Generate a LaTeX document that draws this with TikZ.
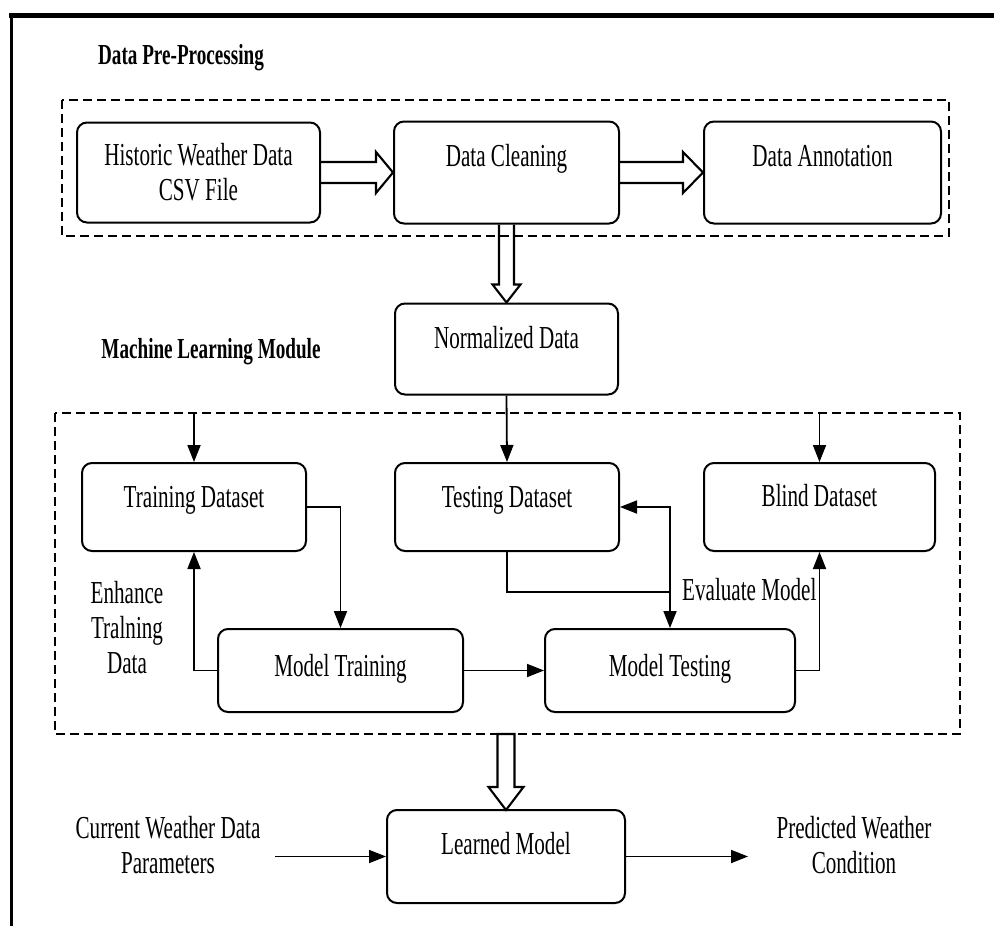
\documentclass[tikz,border=0pt]{standalone}
\usepackage{fontspec}
\setmainfont{Liberation Serif}[FakeStretch=0.66]
\usetikzlibrary{arrows.meta,positioning}

\begin{document}
\begin{tikzpicture}[
  x=1pt,y=-1pt,
  node distance=80pt,
  box/.style={draw,line width=2pt,rounded corners=10pt,align=center,inner sep=2pt,font=\fontsize{32}{35}\selectfont},
  lift/.style={text height=22pt,text depth=#1},
  lbl/.style={align=center,font=\fontsize{32}{35}\selectfont},
  head/.style={font=\bfseries\fontsize{29}{30}\selectfont},
  group/.style={dash pattern=on 9pt off 5pt,line width=2pt},
  arr/.style={-{Triangle[length=17pt,width=13pt]},line width=1.8pt},
  hollow/.style={line width=2.1pt,line join=miter}
]
\useasboundingbox (0,0) rectangle (994,926);
% frame, top and left side only
\draw[line width=5pt] (9,15) -- (994,15);
\draw[line width=3pt] (11,13) -- (11,926);

% pre-processing stage
\node[head] (pretitle) at (181,58) {Data Pre-Processing};
\draw[group] (62,100) coordinate (pre nw) rectangle (949,236) coordinate (pre se);
\node[box,minimum width=243pt,minimum height=100pt] (hist) at (198.5,172.5) {Historic Weather Data\\CSV File};
\node[box,lift=34pt,minimum width=225pt,minimum height=102pt,right=72pt of hist] (clean) {Data Cleaning};
\node[box,lift=34pt,minimum width=237pt,minimum height=102pt,right=83pt of clean] (annot) {Data Annotation};
\node[box,lift=24pt,minimum width=223pt,minimum height=91pt,below=78pt of clean] (norm) {Normalized Data};

\draw[hollow] (hist.east) ++(0,-10.5) -- ++(55,0) -- ++(0,-10) -- ++(17,20.5) -- ++(-17,20.5) -- ++(0,-10) -- ++(-55,0);
\draw[hollow] (clean.east) ++(0,-10.5) -- ++(63,0) -- ++(0,-10) -- ++(20,20.5) -- ++(-20,20.5) -- ++(0,-10) -- ++(-63,0);
\draw[hollow] (clean.south) ++(-7.5,0) -- ++(0,60) -- ++(-6.5,0) -- ++(14,18) -- ++(14,-18) -- ++(-6.5,0) -- ++(0,-60);

% machine learning module
\node[head] (mltitle) at (211,352) {Machine Learning Module};
\draw[group] (55,413) coordinate (ml nw) rectangle (960,734) coordinate (ml se);
\node[box,lift=22pt,minimum width=224pt,minimum height=88pt] (train) at (194,507) {Training Dataset};
\node[box,lift=22pt,minimum width=224pt,minimum height=88pt,right=87pt of train] (test) {Testing Dataset};
\node[box,lift=24pt,minimum width=231pt,minimum height=88pt,right=83pt of test] (blind) {Blind Dataset};
\node[box,lift=10pt,minimum width=245pt,minimum height=83pt] (mtrain) at (340.5,670.5) {Model Training};
\node[box,lift=10pt,minimum width=250pt,minimum height=83pt,right=of mtrain] (mtest) {Model Testing};
\node[lbl] (enhance) at (127,628) {Enhance\\Tralning\\Data};
\node[lbl,anchor=east] (eval) at (820,590) {Evaluate Model};
\coordinate (jn) at (mtest.north |- 0,592);

\draw[arr] (norm.south) -- (test.north);
\draw[arr] (train.north |- ml nw) -- (train.north);
\draw[arr] (blind.north |- ml nw) -- (blind.north);
\draw[arr] (train.east) -| (mtrain.north);
\draw[arr] (mtrain.west) -| (train.south);
\draw[arr] (mtrain) -- (mtest);
\draw[line width=1.8pt] (test.south) |- (jn);
\draw[arr] (jn) -- (mtest.north);
\draw[arr] (jn) |- (test.east);
\draw[arr] (mtest.east) -| (blind.south);

% prediction
\node[box,lift=26pt,minimum width=238pt,minimum height=93pt] (learn) at (506,856.5) {Learned Model};
\node[lbl] (cur) at (168,845) {Current Weather Data\\Parameters};
\node[lbl] (pred) at (854,845) {Predicted Weather\\Condition};
\coordinate[left=111pt of learn.west] (cin);
\coordinate[right=122pt of learn.east] (cout);

\draw[hollow] (learn.north |- ml se) ++(-8.5,0) -- ++(0,53) -- ++(-9,0) -- ++(17.5,23) -- ++(17.5,-23) -- ++(-9,0) -- ++(0,-53) -- cycle;
\draw[arr] (cin) -- (learn.west);
\draw[arr] (learn.east) -- (cout);
\end{tikzpicture}
\end{document}
